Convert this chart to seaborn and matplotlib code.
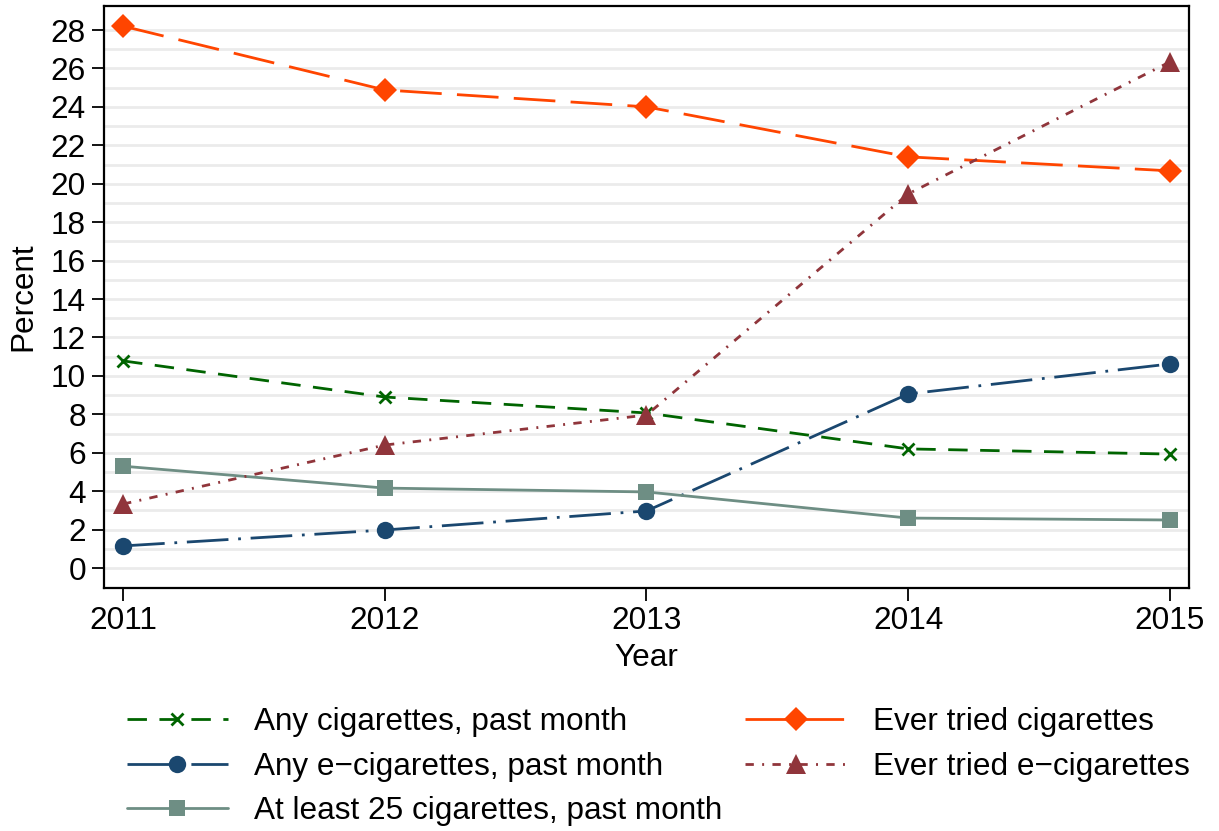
import matplotlib
matplotlib.use("Agg")
import matplotlib.pyplot as plt
import seaborn as sns
import pandas as pd

years = [2011, 2012, 2013, 2014, 2015]
any_cig = [10.78, 8.90, 8.07, 6.20, 5.93]
any_ecig = [1.15, 1.98, 2.97, 9.06, 10.62]
atleast25 = [5.30, 4.16, 3.96, 2.60, 2.50]
ever_cig = [28.20, 24.88, 24.00, 21.40, 20.67]
ever_ecig = [3.33, 6.40, 7.96, 19.47, 26.34]

labels = ["Any cigarettes, past month", "Any e\u2212cigarettes, past month",
          "At least 25 cigarettes, past month", "Ever tried cigarettes",
          "Ever tried e\u2212cigarettes"]
series = [any_cig, any_ecig, atleast25, ever_cig, ever_ecig]

rows = []
for lab, vals in zip(labels, series):
    for y, v in zip(years, vals):
        rows.append({"Year": y, "Percent": v, "Series": lab})
df = pd.DataFrame(rows)

sns.set_theme(style="white")
plt.rcParams['font.family'] = ['Liberation Sans', 'DejaVu Sans']
plt.rcParams['text.color'] = 'black'
plt.rcParams['axes.labelcolor'] = 'black'
plt.rcParams['xtick.color'] = 'black'
plt.rcParams['ytick.color'] = 'black'

colors = ["#006400", "#1a476f", "#6e8e84", "#ff4500", "#90353b"]
dashes = [(0, (7, 4.5)), (0, (15, 3.5, 1, 3.5)), "-", (0, (15, 5.5)),
          (0, (3, 3, 0.7, 3))]
markers = ["x", "o", "s", "D", "^"]
msizes = [8, 12.5, 11.5, 12, 14]

FS = 22.7

fig = plt.figure(figsize=(12.19, 8.31), dpi=100)
ax = fig.add_axes([0.0853, 0.2924, 0.8901, 0.7004])

for lab, c, ls, m, ms in zip(labels, colors, dashes, markers, msizes):
    sub = df[df["Series"] == lab]
    sns.lineplot(data=sub, x="Year", y="Percent", ax=ax, color=c,
                 linestyle=ls, marker=m, markersize=ms, linewidth=2.0,
                 markeredgecolor=c, markeredgewidth=2 if m == "x" else 0,
                 label=lab, legend=False)

ax.set_xlim(2010.927, 2015.073)
ax.set_ylim(-1.04, 29.25)
ax.set_xticks(years)
ax.set_xticklabels([str(y) for y in years])
ax.set_yticks(range(0, 29, 2))
ax.set_yticks(range(0, 29), minor=True)
ax.grid(True, axis="y", which="both", color="#ebebeb", linewidth=2.0)
ax.set_axisbelow(True)
ax.tick_params(axis="both", which="major", direction="out", length=9,
               width=1.3, color="black", labelsize=FS, pad=4,
               left=True, bottom=True)
ax.tick_params(axis="y", which="minor", length=0)
for s in ax.spines.values():
    s.set_color("black")
    s.set_linewidth(1.6)
ax.set_xlabel("Year", fontsize=FS, labelpad=5)
ax.set_ylabel("Percent", fontsize=FS, labelpad=9)

handles, labs = ax.get_legend_handles_labels()
fig.legend(handles, labs, ncol=2, loc="upper left",
           bbox_to_anchor=(0.104, 0.149), frameon=False, fontsize=FS,
           handlelength=3.2, handletextpad=0.85, columnspacing=0.72,
           labelspacing=0.46, borderaxespad=0, borderpad=0)

fig.savefig("out.png", dpi=100)
